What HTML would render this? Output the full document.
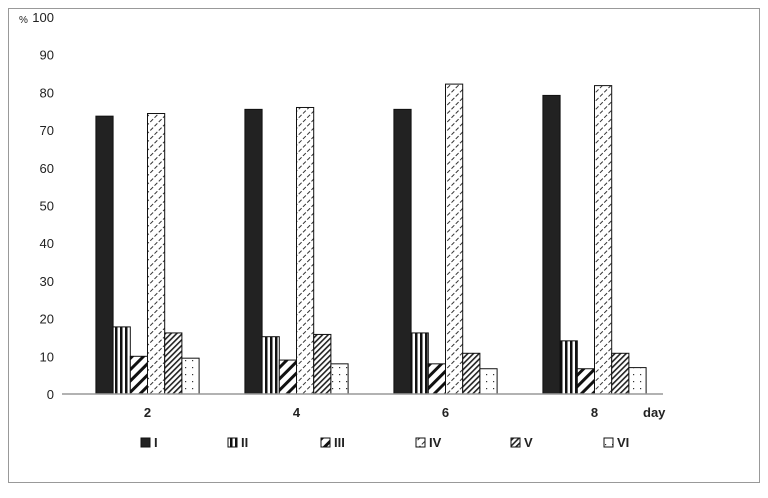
<!DOCTYPE html>
<html><head><meta charset="utf-8"><style>
body{margin:0;background:#fff;font-family:"Liberation Sans",sans-serif}
</style></head><body>
<svg width="768" height="493" xmlns="http://www.w3.org/2000/svg">
<defs>
<pattern id="p2" width="5" height="5" patternUnits="userSpaceOnUse"><rect width="5" height="5" fill="#fff"/><rect width="2.5" height="5" fill="#111"/></pattern>
<pattern id="p3" width="8" height="8" patternUnits="userSpaceOnUse" patternTransform="rotate(45)"><rect width="8" height="8" fill="#fff"/><rect width="3" height="8" fill="#111"/></pattern>
<pattern id="p4" width="6" height="6" patternUnits="userSpaceOnUse" patternTransform="rotate(45)"><rect width="6" height="6" fill="#fff"/><rect width="1" height="4" fill="#333"/></pattern>
<pattern id="p5" width="4" height="4" patternUnits="userSpaceOnUse" patternTransform="rotate(45)"><rect width="4" height="4" fill="#fff"/><rect width="1.6" height="4" fill="#222"/></pattern>
<pattern id="p6" width="7" height="7" patternUnits="userSpaceOnUse"><rect width="7" height="7" fill="#fff"/><rect x="3" y="3" width="1.2" height="1.2" fill="#333"/></pattern>
</defs>
<rect x="8.5" y="8.5" width="751" height="474" fill="#fff" stroke="#999"/>
<g id="g"></g>
</svg>
<script>
const categories=["2","4","6","8"];
const seriesNames=["I","II","III","IV","V","VI"];
const sI=[73.7,75.5,75.5,79.2];
const sII=[17.8,15.2,16.2,14.1];
const sIII=[10,9,8,6.7];
const sIV=[74.4,76,82.2,81.8];
const sV=[16.2,15.8,10.8,10.8];
const sVI=[9.5,8,6.7,7];
const yTicks=[0,10,20,30,40,50,60,70,80,90,100];
const series=[sI,sII,sIII,sIV,sV,sVI];
const fills=["#222","url(#p2)","url(#p3)","url(#p4)","url(#p5)","url(#p6)"];
const NS="http://www.w3.org/2000/svg",g=document.getElementById('g');
const x0=62,x1=663,y0=394,y100=17;
const y=v=>y0-(v/100)*(y0-y100);
const gw=149,firstC=147.5,bw=17.2;
function mk(t,a){const e=document.createElementNS(NS,t);for(const k in a)e.setAttribute(k,a[k]);g.appendChild(e);return e;}
yTicks.forEach(t=>{const e=mk('text',{x:54,y:y(t)+5,'text-anchor':'end','font-size':13,fill:'#222'});e.textContent=t;

});
const pc=mk('text',{x:19,y:23,'font-size':10,fill:'#222'});pc.textContent='%';


categories.forEach((c,i)=>{const cx=firstC+gw*i;
series.forEach((s,j)=>{const bx=cx-3*bw+j*bw;const r=mk('rect',{x:bx,y:y(s[i]),width:bw,height:y0-y(s[i]),fill:fills[j],stroke:'#111','stroke-width':1});

});
const t=mk('text',{x:cx,y:417,'text-anchor':'middle','font-size':13,'font-weight':'bold',fill:'#222'});t.textContent=c;

});
const ax=mk('line',{x1:x0,x2:x1,y1:y0,y2:y0,stroke:'#999','stroke-width':1.5});


const day=mk('text',{x:643,y:417,'font-size':13,'font-weight':'bold',fill:'#222'});day.textContent='day';


const lx=[141,228,321,416,511,604];
seriesNames.forEach((n,j)=>{const r=mk('rect',{x:lx[j],y:438,width:9,height:9,fill:fills[j],stroke:'#111'});


const t=mk('text',{x:lx[j]+13,y:447,'font-size':13,'font-weight':'bold',fill:'#222'});t.textContent=n;

});
</script>
</body></html>
